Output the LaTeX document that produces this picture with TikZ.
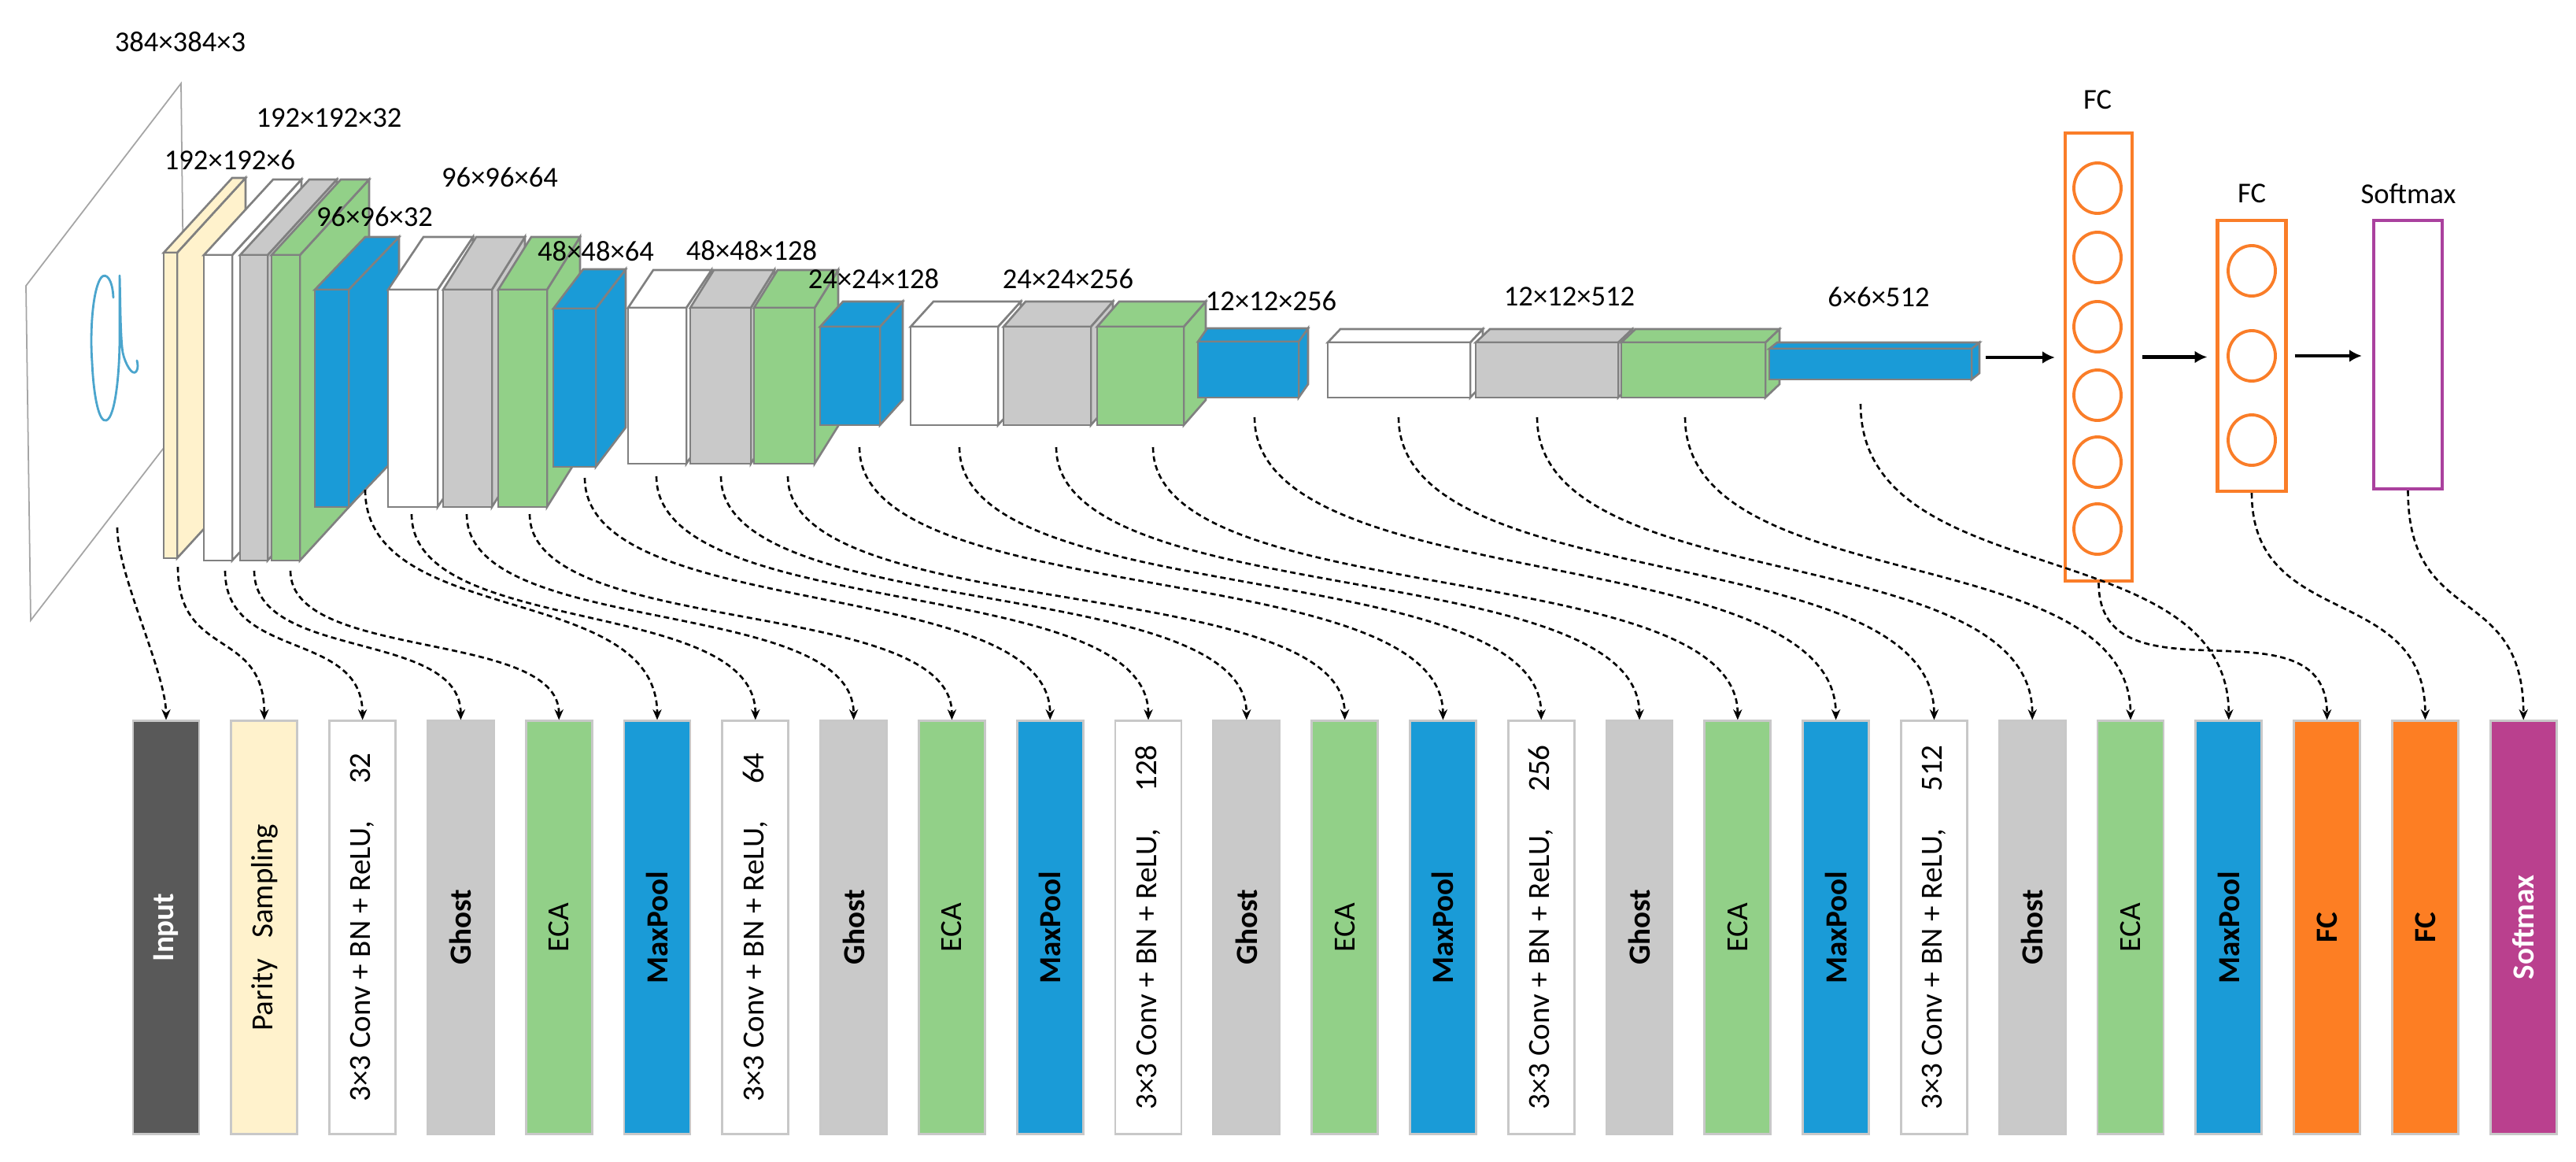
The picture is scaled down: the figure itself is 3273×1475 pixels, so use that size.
\documentclass[tikz,border=0pt]{standalone}
\usepackage{fontspec}
\setmainfont{Carlito}
\usetikzlibrary{arrows.meta}
\definecolor{cYel}{RGB}{255,242,204}
\definecolor{cGry}{RGB}{201,201,201}
\definecolor{cGrn}{RGB}{146,208,136}
\definecolor{cBlu}{RGB}{26,155,215}
\definecolor{cOrg}{RGB}{253,126,35}
\definecolor{cMag}{RGB}{186,64,142}
\definecolor{cDrk}{RGB}{89,89,89}
\definecolor{cEdge}{RGB}{128,128,128}
\definecolor{cBarEdge}{RGB}{200,200,200}
\definecolor{cPlane}{RGB}{165,165,165}
\definecolor{cInk}{RGB}{75,165,205}
\definecolor{cOrgLine}{RGB}{250,125,40}
\definecolor{cMagLine}{RGB}{170,65,158}
\newcommand{\mycuboid}[7]{%
  \filldraw[boxedge, fill=#1] (#4,#3) -- ++(#6,-#7) -- ({#4+#6},{#5-#7}) -- (#4,#5) -- cycle;
  \filldraw[boxedge, fill=#1] (#2,#3) -- ++(#6,-#7) -- ({#4+#6},{#3-#7}) -- (#4,#3) -- cycle;
  \filldraw[boxedge, fill=#1] (#2,#3) rectangle (#4,#5);
}
\begin{document}
\begin{tikzpicture}[x=0.01cm,y=-0.01cm,
  boxedge/.style={draw=cEdge, line width=0.75pt},
  lab/.style={font=\fontsize{10.4pt}{12pt}\selectfont, inner sep=0pt},
  barbox/.style={draw=cBarEdge, line width=0.8pt, minimum width=0.84cm, minimum height=5.24cm, inner sep=0pt},
  bartext/.style={rotate=90, inner sep=0pt, font=\fontsize{11.1pt}{13pt}\selectfont},
  conn/.style={black, line width=0.75pt, dash pattern=on 2pt off 1.3pt, -{Stealth[length=3.8pt,width=3.2pt]}},
  flow/.style={black, line width=1.2pt, -{Latex[length=4.5pt,width=4.5pt]}},
  fcbox/.style={draw=cOrgLine, line width=1.2pt, inner sep=0pt, fill=white},
  neuron/.style={draw=cOrgLine, line width=1.1pt},
  ink/.style={draw=cInk, line width=0.8pt, line cap=round, line join=round}]
\useasboundingbox (0,0) rectangle (3273,1475);
\fill[white] (0,0) rectangle (3273,1475);

% input plane
\filldraw[fill=white, draw=cPlane, line width=0.5pt] (33,363) -- (230,106) -- (235,534) -- (39,788) -- cycle;
\draw[ink] (144,378) .. controls (143,355) and (135,346) .. (129,352)
 .. controls (118,365) and (114,420) .. (117,460)
 .. controls (119,505) and (126,537) .. (135,534)
 .. controls (147,530) and (152,470) .. (152,430)
 .. controls (152,400) and (152,370) .. (152,350)
 .. controls (153,390) and (153,430) .. (156,448)
 .. controls (159,462) and (168,478) .. (173,472)
 .. controls (176,468) and (175,462) .. (174,458);

% stage 1
\mycuboid{cYel}{208}{321}{225}{709}{87}{95}
\mycuboid{white}{259}{324}{295}{712}{88}{96}
\mycuboid{cGry}{305}{324}{340}{712}{88}{96}
\mycuboid{cGrn}{345}{324}{381}{712}{88}{96}
\mycuboid{cBlu}{400}{368}{443}{644}{64}{67}
% stage 2
\mycuboid{white}{493}{368}{556}{644}{45}{67}
\mycuboid{cGry}{563}{368}{625}{644}{42}{67}
\mycuboid{cGrn}{633}{368}{695}{644}{42}{67}
\mycuboid{cBlu}{703}{392}{757}{593}{38}{50}
% stage 3
\mycuboid{white}{798}{391}{872}{589}{32}{48}
\mycuboid{cGry}{877}{391}{954}{589}{30}{48}
\mycuboid{cGrn}{958}{391}{1035}{589}{30}{48}
\mycuboid{cBlu}{1042}{415}{1118}{540}{29}{32}
% stage 4
\mycuboid{white}{1157}{415}{1268}{540}{29}{32}
\mycuboid{cGry}{1275}{415}{1386}{540}{28}{32}
\mycuboid{cGrn}{1394}{415}{1504}{540}{28}{32}
\mycuboid{cBlu}{1522}{434}{1650}{505}{12}{17}
% stage 5
\mycuboid{white}{1687}{435}{1868}{505}{16}{17}
\mycuboid{cGry}{1875}{435}{2056}{505}{18}{17}
\mycuboid{cGrn}{2060}{435}{2243}{505}{18}{17}
\mycuboid{cBlu}{2248}{443}{2505}{482}{10}{8}
\coordinate (b5r) at (2523,454);

% FC layers
\node[fcbox, minimum width=0.85cm, minimum height=5.69cm] (fc1) at (2666.5,453.5) {};
\node[fcbox, minimum width=0.87cm, minimum height=3.44cm] (fc2) at (2861,452) {};
\node[fcbox, draw=cMagLine, minimum width=0.87cm, minimum height=3.41cm] (sm) at (3059.5,450.5) {};
\foreach \cy in {239,327,415,502,587,672}
  \draw[neuron] (2665,\cy) ellipse [x radius=30, y radius=32];
\foreach \cy in {344,452,559}
  \draw[neuron] (2861,\cy) ellipse [x radius=30, y radius=32];
\draw[flow, shorten >=0.11cm] (b5r) -- (b5r -| fc1.west);
\draw[flow, shorten <=0.11cm, shorten >=0.11cm] (fc1.east) -- (fc1.east -| fc2.west);
\draw[flow, shorten <=0.09cm, shorten >=0.13cm] (fc2.east) -- (fc2.east -| sm.west);

% labels
\node[lab] (t1) at (229,53) {384×384×3};
\node[lab] (t2) at (418,150) {192×192×32};
\node[lab] (t3) at (292,203) {192×192×6};
\node[lab] (t4) at (635,225) {96×96×64};
\node[lab] (t5) at (476,275) {96×96×32};
\node[lab] (t6) at (757,319) {48×48×64};
\node[lab] (t7) at (955,318) {48×48×128};
\node[lab] (t8) at (1110,354) {24×24×128};
\node[lab] (t9) at (1357,354) {24×24×256};
\node[lab] (t10) at (1615,382) {12×12×256};
\node[lab] (t11) at (1994,377) {12×12×512};
\node[lab] (t12) at (2387,377) {6×6×512};
\node[lab] (t13) at (2665,127) {FC};
\node[lab] (t14) at (2861,246) {FC};
\node[lab] (t15) at (3060,246) {Softmax};

% bottom legend bars
\foreach \i/\fc/\tc/\txt in {
  0/cDrk/white/{\bfseries Input},
  1/cYel/black/{Parity\ \ \ Sampling},
  2/white/black/{3×3 Conv + BN + ReLU,\hspace{1.2em}32},
  3/cGry/black/{\bfseries Ghost},
  4/cGrn/black/{ECA},
  5/cBlu/black/{\bfseries MaxPool},
  6/white/black/{3×3 Conv + BN + ReLU,\hspace{1.2em}64},
  7/cGry/black/{\bfseries Ghost},
  8/cGrn/black/{ECA},
  9/cBlu/black/{\bfseries MaxPool},
  10/white/black/{3×3 Conv + BN + ReLU,\hspace{1.2em}128},
  11/cGry/black/{\bfseries Ghost},
  12/cGrn/black/{ECA},
  13/cBlu/black/{\bfseries MaxPool},
  14/white/black/{3×3 Conv + BN + ReLU,\hspace{1.2em}256},
  15/cGry/black/{\bfseries Ghost},
  16/cGrn/black/{ECA},
  17/cBlu/black/{\bfseries MaxPool},
  18/white/black/{3×3 Conv + BN + ReLU,\hspace{1.2em}512},
  19/cGry/black/{\bfseries Ghost},
  20/cGrn/black/{ECA},
  21/cBlu/black/{\bfseries MaxPool},
  22/cOrg/black/{\bfseries FC},
  23/cOrg/black/{\bfseries FC},
  24/cMag/white/{\bfseries Softmax}} {
  \pgfmathsetmacro\bx{211+124.8*\i}
  \node[barbox, fill=\fc] (b\i) at (\bx,1178) {};
  \node[bartext, text=\tc] (bt\i) at (b\i.center) {\txt};
}

% connector start points
\foreach \i/\x/\y in {0/149/670, 1/226/720, 2/286/725, 3/323/725, 4/369/725,
  5/464/622, 6/523/653, 7/593/653, 8/673/653, 9/743/607, 10/834/605,
  11/916/605, 12/1001/605, 13/1092/568, 14/1219/568, 15/1342/568,
  16/1465/568, 17/1594/530, 18/1777/530, 19/1953/530, 20/2141/530, 21/2364/513}
  \coordinate (s\i) at (\x,\y);
\coordinate (s22) at (fc1.south);
\coordinate (s23) at (fc2.south);
\coordinate (s24) at (sm.south);

\foreach \i/\k in {0/60, 1/118, 2/115, 3/115, 4/115, 5/176, 6/158, 7/158, 8/158,
  9/185, 10/187, 11/187, 12/187, 13/209, 14/209, 15/209, 16/209,
  17/232, 18/232, 19/232, 20/232, 21/242, 22/160, 23/175, 24/176}
  \draw[conn] (s\i) .. controls +(0,\k) and +(0,-\k) .. (b\i.north);
\end{tikzpicture}
\end{document}
